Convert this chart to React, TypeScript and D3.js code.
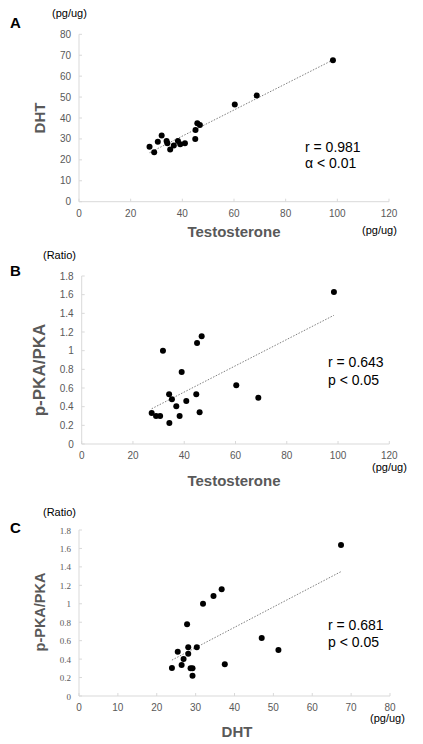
import React from "react";
import * as d3 from "d3";

// Panel A: Testosterone vs DHT
const testoA = [27.3, 29.1, 30.5, 32.0, 33.9, 34.2, 35.3, 36.7, 38.3, 39.2, 41.0, 45.0, 45.1, 45.8, 46.8, 60.3, 68.8, 98.3];
const dhtA = [26.3, 23.6, 28.7, 31.6, 29.0, 27.9, 24.9, 26.8, 29.0, 27.4, 27.9, 30.0, 34.3, 37.5, 36.7, 46.5, 50.8, 67.6];

// Panel B: Testosterone vs p-PKA/PKA
const testoB = [27.3, 29.0, 30.6, 31.7, 34.1, 34.2, 35.2, 36.9, 38.2, 39.0, 40.8, 44.7, 45.0, 46.0, 46.8, 60.3, 68.9, 98.4];
const ratioB = [0.332, 0.30, 0.30, 1.0, 0.532, 0.225, 0.479, 0.404, 0.30, 0.771, 0.461, 0.532, 1.082, 0.339, 1.154, 0.629, 0.496, 1.629];

// Panel C: DHT vs p-PKA/PKA
const dhtC = [23.9, 25.4, 26.4, 26.9, 27.8, 28.1, 28.1, 28.7, 29.2, 29.2, 30.3, 31.9, 34.6, 36.7, 37.5, 47.0, 51.3, 67.4];
const ratioC = [0.304, 0.481, 0.336, 0.401, 0.777, 0.459, 0.528, 0.30, 0.30, 0.22, 0.528, 1.0, 1.084, 1.157, 0.343, 0.629, 0.499, 1.637];

const xTicksA = [0, 20, 40, 60, 80, 100, 120];
const yTicksA = [0, 10, 20, 30, 40, 50, 60, 70, 80];
const xTicksB = [0, 20, 40, 60, 80, 100, 120];
const yTicksRatio = [0, 0.2, 0.4, 0.6, 0.8, 1, 1.2, 1.4, 1.6, 1.8];
const xTicksC = [0, 10, 20, 30, 40, 50, 60, 70, 80];

const GRAY = "#595959";
const AXIS = "#d9d9d9";
const SANS = "'Liberation Sans', Arial, sans-serif";

type PanelProps = {
  xs: number[];
  ys: number[];
  xTicks: number[];
  yTicks: number[];
  left: number;
  right: number;
  top: number;
  bottom: number;
  letter: string;
  yUnit: string;
  yLabel: string;
  yLabelSize: number;
  yLabelCenter: number;
  xLabel: string;
  xLabelX: number;
  xLabelY: number;
  xUnitX: number;
  xUnitY: number;
  statX: number;
  stat1Y: number;
  stat2Y: number;
  stat1: string;
  stat2: string;
  unitY: number;
  letterY: number;
  yTickFont?: string;
  yTickSize?: number;
};

function Panel(p: PanelProps) {
  const xMax = p.xTicks[p.xTicks.length - 1];
  const yMax = p.yTicks[p.yTicks.length - 1];
  const x = d3.scaleLinear().domain([0, xMax]).range([p.left, p.right]);
  const y = d3.scaleLinear().domain([0, yMax]).range([p.bottom, p.top]);

  // least-squares regression from the data
  const mx = d3.mean(p.xs)!;
  const my = d3.mean(p.ys)!;
  let sxy = 0, sxx = 0;
  p.xs.forEach((v, i) => {
    sxy += (v - mx) * (p.ys[i] - my);
    sxx += (v - mx) * (v - mx);
  });
  const slope = sxy / sxx;
  const icpt = my - slope * mx;
  const [x0, x1] = d3.extent(p.xs) as [number, number];
  const line = d3.line<number>().x((v) => x(v)).y((v) => y(icpt + slope * v));
  const fmt = (v: number) => String(+v.toFixed(1));

  return (
    <g>
      {/* axes */}
      <line x1={p.left} x2={p.right} y1={p.bottom} y2={p.bottom} stroke={AXIS} strokeWidth={1} />
      <line x1={p.left} x2={p.left} y1={p.top} y2={p.bottom} stroke={AXIS} strokeWidth={1} />
      {p.xTicks.map((t) => (
        <g key={"x" + t}>
          <line x1={x(t)} x2={x(t)} y1={p.bottom} y2={p.bottom - 3} stroke={AXIS} />
          <text x={x(t)} y={p.bottom + 15} textAnchor="middle" fontSize={10} fill={GRAY} fontFamily={SANS}>
            {fmt(t)}
          </text>
        </g>
      ))}
      {p.yTicks.map((t) => (
        <g key={"y" + t}>
          <line x1={p.left} x2={p.left + 3} y1={y(t)} y2={y(t)} stroke={AXIS} />
          <text
            x={p.left - 8}
            y={y(t) + 3.5}
            textAnchor="end"
            fontSize={p.yTickSize ?? 10}
            fill={GRAY}
            fontFamily={p.yTickFont ?? SANS}
          >
            {fmt(t)}
          </text>
        </g>
      ))}
      {/* trend line */}
      <path d={line([x0, x1])!} fill="none" stroke="#7f7f7f" strokeWidth={1} strokeDasharray="1.5,1.5" />
      {/* points */}
      {p.xs.map((v, i) => (
        <circle key={i} cx={x(v)} cy={y(p.ys[i])} r={3} fill="#000" />
      ))}
      {/* labels */}
      <text x={10} y={p.letterY} fontSize={15} fontWeight="bold" fill="#000" fontFamily={SANS}>
        {p.letter}
      </text>
      <text x={p.letter === "A" ? 52 : 43} y={p.unitY} fontSize={11} fill="#000" fontFamily={SANS}>
        {p.yUnit}
      </text>
      <text
        transform={`translate(45,${p.yLabelCenter}) rotate(-90)`}
        textAnchor="middle"
        fontSize={p.yLabelSize}
        fontWeight="bold"
        fill={GRAY}
        fontFamily={SANS}
      >
        {p.yLabel}
      </text>
      <text x={p.xLabelX} y={p.xLabelY} textAnchor="middle" fontSize={15} fontWeight="bold" fill={GRAY} fontFamily={SANS}>
        {p.xLabel}
      </text>
      <text x={p.xUnitX} y={p.xUnitY} fontSize={11} fill="#000" fontFamily={SANS}>
        (pg/ug)
      </text>
      <text x={p.statX} y={p.stat1Y} fontSize={14} fill="#000" fontFamily={SANS}>
        {p.stat1}
      </text>
      <text x={p.statX} y={p.stat2Y} fontSize={14} fill="#000" fontFamily={SANS}>
        {p.stat2}
      </text>
    </g>
  );
}

export default function App() {
  return (
    <svg
      width={423}
      height={744}
      style={{ position: "absolute", left: 0, top: 0, background: "#fff" }}
    >
      <rect width={423} height={744} fill="#fff" />
      <Panel
        xs={testoA}
        ys={dhtA}
        xTicks={xTicksA}
        yTicks={yTicksA}
        left={79}
        right={389}
        top={34.3}
        bottom={201.7}
        letter="A"
        letterY={28}
        yUnit="(pg/ug)"
        unitY={17}
        yLabel="DHT"
        yLabelSize={15}
        yLabelCenter={118}
        xLabel="Testosterone"
        xLabelX={234}
        xLabelY={237}
        xUnitX={362}
        xUnitY={234}
        statX={305}
        stat1Y={152}
        stat2Y={168}
        stat1="r = 0.981"
        stat2="α < 0.01"
      />
      <Panel
        xs={testoB}
        ys={ratioB}
        xTicks={xTicksB}
        yTicks={yTicksRatio}
        left={81.7}
        right={389.3}
        top={276}
        bottom={444}
        letter="B"
        letterY={276}
        yUnit="(Ratio)"
        unitY={259}
        yLabel="p-PKA/PKA"
        yLabelSize={17}
        yLabelCenter={370}
        xLabel="Testosterone"
        xLabelX={234}
        xLabelY={486}
        xUnitX={372}
        xUnitY={471}
        statX={328}
        stat1Y={367}
        stat2Y={385}
        stat1="r = 0.643"
        stat2="p < 0.05"
      />
      <Panel
        xs={dhtC}
        ys={ratioC}
        xTicks={xTicksC}
        yTicks={yTicksRatio}
        left={79}
        right={390}
        top={530}
        bottom={696}
        letter="C"
        letterY={533}
        yUnit="(Ratio)"
        unitY={516}
        yLabel="p-PKA/PKA"
        yLabelSize={14.5}
        yLabelCenter={612}
        xLabel="DHT"
        xLabelX={237}
        xLabelY={737}
        xUnitX={370}
        xUnitY={722}
        statX={328}
        stat1Y={630}
        stat2Y={647}
        stat1="r = 0.681"
        stat2="p < 0.05"
        yTickFont="'Liberation Serif', serif"
        yTickSize={9}
      />
    </svg>
  );
}
